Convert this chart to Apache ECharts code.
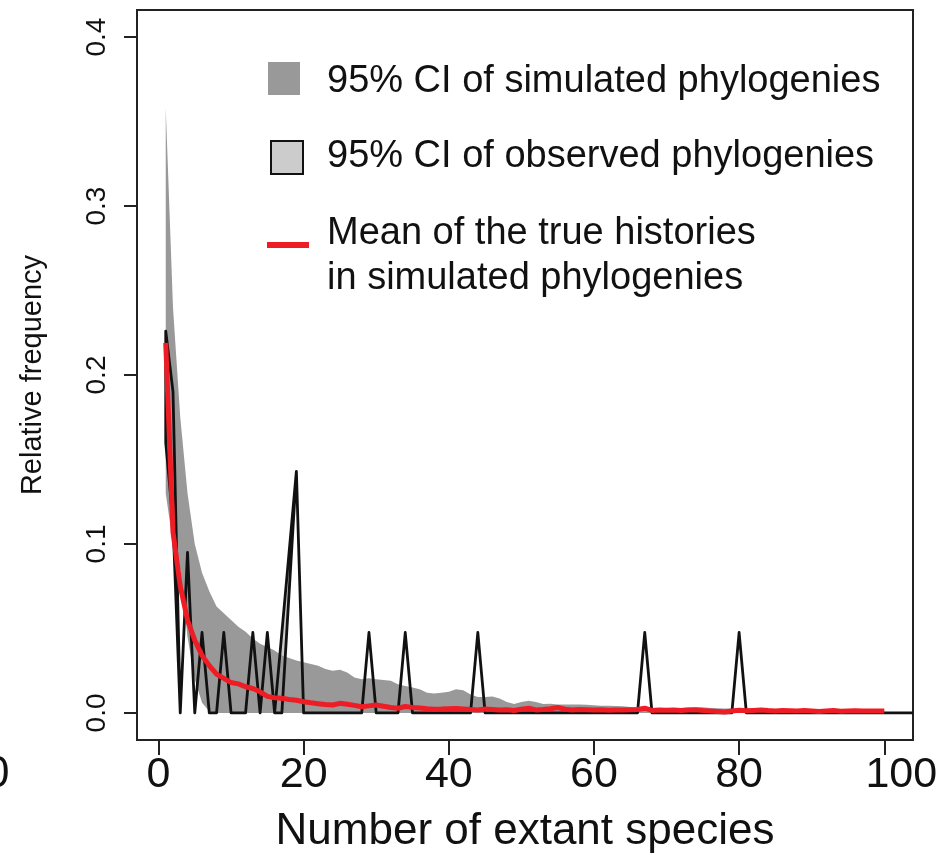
<!DOCTYPE html>
<html>
<head>
<meta charset="utf-8">
<title>Relative frequency of extant species</title>
<script src="https://cdn.jsdelivr.net/npm/echarts@6/dist/echarts.min.js"></script>
<style>
html, body { margin: 0; padding: 0; background: #fff; }
#chart { width: 945px; height: 855px; }
</style>
</head>
<body>
<div id="chart"></div>
<script>
// values, x = number of extant species (1..100)
var simUpper = [
  0.358, 0.24, 0.175, 0.13, 0.10, 0.083, 0.072, 0.063, 0.059, 0.055,
  0.051, 0.048, 0.044, 0.041, 0.039, 0.037, 0.034, 0.0325, 0.031, 0.030,
  0.029, 0.028, 0.026, 0.025, 0.0255, 0.024, 0.021, 0.020, 0.0205, 0.020,
  0.0195, 0.019, 0.017, 0.016, 0.015, 0.014, 0.012, 0.0115, 0.012, 0.0125,
  0.014, 0.0135, 0.011, 0.0095, 0.0095, 0.0098, 0.0085, 0.0065, 0.0053, 0.0065,
  0.0073, 0.0065, 0.0053, 0.0055, 0.005, 0.005, 0.005, 0.005, 0.0048, 0.0045,
  0.0043, 0.0042, 0.0041, 0.004, 0.0035, 0.0032, 0.003, 0.0028, 0.003, 0.0028,
  0.003, 0.003, 0.0032, 0.0033, 0.0034, 0.003, 0.0028, 0.0027, 0.0026, 0.0026,
  0.0025, 0.0025, 0.0025, 0.0024, 0.0024, 0.0024, 0.0023, 0.0023, 0.0023, 0.0022,
  0.0022, 0.0022, 0.0022, 0.0021, 0.0021, 0.0021, 0.002, 0.002, 0.002, 0.002
];
var simLower = [
  0.13, 0.10, 0.085, 0.045, 0.02, 0.006, 0.001, 0, 0, 0,
  0, 0, 0, 0, 0, 0, 0, 0, 0, 0,
  0, 0, 0, 0, 0, 0, 0, 0, 0, 0,
  0, 0, 0, 0, 0, 0, 0, 0, 0, 0,
  0, 0, 0, 0, 0, 0, 0, 0, 0, 0,
  0, 0, 0, 0, 0, 0, 0, 0, 0, 0,
  0, 0, 0, 0, 0, 0, 0, 0, 0, 0,
  0, 0, 0, 0, 0, 0, 0, 0, 0, 0,
  0, 0, 0, 0, 0, 0, 0, 0, 0, 0,
  0, 0, 0, 0, 0, 0, 0, 0, 0, 0
];
var meanTrue = [
  0.219, 0.107, 0.075, 0.055, 0.043, 0.034, 0.028, 0.023, 0.0205, 0.018,
  0.0172, 0.0155, 0.0145, 0.0125, 0.0098, 0.009, 0.0087, 0.008, 0.0075, 0.0066,
  0.006, 0.0055, 0.005, 0.0047, 0.0057, 0.0052, 0.0045, 0.0037, 0.0042, 0.0047,
  0.004, 0.0032, 0.0028, 0.0038, 0.0033, 0.003, 0.0025, 0.0022, 0.0023, 0.0025,
  0.0027, 0.0024, 0.002, 0.0018, 0.0024, 0.0021, 0.0017, 0.0019, 0.0015, 0.0022,
  0.0028, 0.0018, 0.002, 0.0025, 0.0032, 0.0022, 0.0018, 0.002, 0.0019, 0.0017,
  0.0019, 0.0016, 0.0018, 0.0017, 0.0019, 0.0021, 0.0028, 0.0015, 0.0017, 0.0016,
  0.0018, 0.0015, 0.0017, 0.0019, 0.0014, 0.0012, 0.0009, 0.0006, 0.0012, 0.0016,
  0.0013, 0.0015, 0.0017, 0.0014, 0.0012, 0.0015, 0.0013, 0.0011, 0.0014, 0.0012,
  0.0009, 0.0012, 0.0014, 0.001, 0.0012, 0.0013, 0.0011, 0.0012, 0.0012, 0.0012
];

// observed phylogenies CI: only the vertices of the polygon
var obsX     = [1, 2, 3, 4, 5, 6, 7, 8, 9, 10, 12, 13, 14, 15, 16, 17, 18, 19, 20, 28, 29, 30, 33, 34, 35, 43, 44, 45, 66, 67, 68, 79, 80, 81, 110];
var obsUpper = [0.226, 0.19, 0, 0.095, 0, 0.0476, 0, 0, 0.0476, 0, 0, 0.0476, 0, 0.0476, 0, 0.0476, 0.0952, 0.143, 0, 0, 0.0476, 0, 0, 0.0476, 0, 0, 0.0476, 0, 0, 0.0476, 0, 0, 0.0476, 0, 0];
var obsLower = [0.16, 0.113, 0, 0.095, 0, 0.0476, 0, 0, 0.0476, 0, 0, 0.0476, 0, 0.0476, 0, 0, 0.0714, 0.143, 0, 0, 0.0476, 0, 0, 0.0476, 0, 0, 0.0476, 0, 0, 0.0476, 0, 0, 0.0476, 0, 0];

var xTicks = [0, 20, 40, 60, 80, 100];
var yTicks = [0, 0.1, 0.2, 0.3, 0.4];

var FONT = '"Liberation Sans", Arial, Helvetica, sans-serif';
var INK = '#111';

var simX = simUpper.map(function (v, i) { return i + 1; });

function bandPoints(api, xs, upper, lower) {
  var pts = [];
  for (var i = 0; i < xs.length; i++) pts.push(api.coord([xs[i], upper[i]]));
  for (var j = xs.length - 1; j >= 0; j--) pts.push(api.coord([xs[j], lower[j]]));
  return pts;
}

function bandSeries(xs, upper, lower, style) {
  return {
    type: 'custom',
    coordinateSystem: 'cartesian2d',
    clip: true,
    silent: true,
    data: [[0, 0]],
    renderItem: function (params, api) {
      return {
        type: 'polygon',
        shape: { points: bandPoints(api, xs, upper, lower) },
        style: style
      };
    }
  };
}

var chart = echarts.init(document.getElementById('chart'));

chart.setOption({
  animation: false,
  backgroundColor: '#fff',
  grid: {
    left: 137,
    right: 32,
    top: 10,
    bottom: 115,
    outerBoundsMode: 'none',
    show: true,
    borderColor: '#222',
    borderWidth: 2,
    backgroundColor: 'transparent'
  },
  xAxis: {
    type: 'value',
    min: -2.96,
    max: 103.96,
    axisLine: { show: false, onZero: false },
    splitLine: { show: false },
    axisTick: {
      show: true,
      length: 15,
      customValues: xTicks,
      lineStyle: { color: '#222', width: 2 }
    },
    axisLabel: {
      customValues: xTicks,
      fontSize: 43,
      fontFamily: FONT,
      color: INK,
      margin: 14,
      // the last label sits a little right of its tick in the original
      formatter: function (v) { return v === 100 ? '{r|100}' : String(v); },
      rich: { r: { fontSize: 43, fontFamily: FONT, color: INK, padding: [0, 0, 0, 34] } }
    },
    name: 'Number of extant species',
    nameLocation: 'middle',
    nameGap: 70,
    nameTextStyle: { fontSize: 44, fontFamily: FONT, color: INK }
  },
  yAxis: {
    type: 'value',
    min: -0.016,
    max: 0.416,
    axisLine: { show: false, onZero: false },
    splitLine: { show: false },
    axisTick: {
      show: true,
      length: 13,
      customValues: yTicks,
      lineStyle: { color: '#222', width: 2 }
    },
    axisLabel: {
      customValues: yTicks,
      rotate: 90,
      fontSize: 28,
      fontFamily: FONT,
      color: INK,
      margin: 26,
      formatter: function (v) { return v.toFixed(1); }
    },
    name: 'Relative frequency',
    nameLocation: 'middle',
    nameGap: 90,
    nameTextStyle: { fontSize: 29, fontFamily: FONT, color: INK }
  },
  series: [
    // fill of the observed CI, under the simulated band
    bandSeries(obsX, obsUpper, obsLower, { fill: '#cccccc', stroke: null }),
    bandSeries(simX, simUpper, simLower, { fill: '#999999', stroke: null }),
    // outline of the observed CI on top
    bandSeries(obsX, obsUpper, obsLower, {
      fill: null, stroke: '#111', lineWidth: 2.8, lineJoin: 'round'
    }),
    {
      name: 'Mean of the true histories',
      type: 'line',
      data: meanTrue.map(function (v, i) { return [i + 1, v]; }),
      symbol: 'none',
      clip: true,
      lineStyle: { color: '#ee1c25', width: 5 },
      z: 5
    }
  ],
  graphic: [
    { type: 'rect', shape: { x: 268, y: 62, width: 32, height: 33 }, style: { fill: '#999999' } },
    { type: 'rect', shape: { x: 271, y: 141, width: 32, height: 33 }, style: { fill: '#cccccc', stroke: '#111', lineWidth: 2 } },
    { type: 'line', shape: { x1: 267, y1: 245, x2: 309, y2: 245 }, style: { stroke: '#ee1c25', lineWidth: 6 } },
    { type: 'text', x: 327, y: 82, style: { text: '95% CI of simulated phylogenies', font: '38px ' + FONT, fill: INK, verticalAlign: 'middle' } },
    { type: 'text', x: 327, y: 157, style: { text: '95% CI of observed phylogenies', font: '38px ' + FONT, fill: INK, verticalAlign: 'middle' } },
    { type: 'text', x: 327, y: 234, style: { text: 'Mean of the true histories', font: '38px ' + FONT, fill: INK, verticalAlign: 'middle' } },
    { type: 'text', x: 327, y: 279, style: { text: 'in simulated phylogenies', font: '38px ' + FONT, fill: INK, verticalAlign: 'middle' } },
    // edge of the neighbouring panel's tick label
    { type: 'text', x: -15, y: 775, style: { text: '0', font: '44px ' + FONT, fill: INK, verticalAlign: 'middle' } }
  ]
});
</script>
</body>
</html>
